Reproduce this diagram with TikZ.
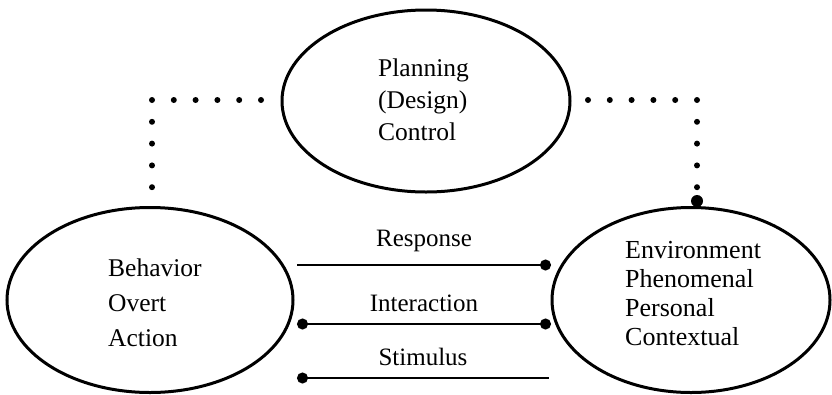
\documentclass[tikz,border=0pt]{standalone}
\usepackage{fontspec}
\setmainfont{Liberation Serif}
\usetikzlibrary{shapes.geometric,arrows.meta}
\begin{document}
\begin{tikzpicture}[x=1pt,y=-1pt,
  oval/.style={draw, ellipse, line width=3pt, inner sep=0pt},
  txt/.style={align=left, inner sep=0pt, anchor=west},
  dotline/.style={line width=6pt, line cap=round, dash pattern=on 0pt off 21.8pt},
  link/.style={line width=1.6pt},
  lbl/.style={font=\fontsize{25}{30}\selectfont, inner sep=0pt},
  bigdot/.style={circle, fill, inner sep=0pt, minimum size=12pt}]
\useasboundingbox (0,0) rectangle (832,394);
% ellipses
\node[oval, minimum width=288pt, minimum height=182pt] (plan) at (426,101) {};
\node[oval, minimum width=286pt, minimum height=185pt] (beh) at (150,300) {};
\node[oval, minimum width=278pt, minimum height=185pt] (env) at (691,300) {};
% texts
\node[txt, font=\fontsize{25.5}{32}\selectfont] (plantxt) at (378,100) {Planning\\(Design)\\Control};
\node[txt, font=\fontsize{25.5}{35}\selectfont] (behtxt) at (108,303) {Behavior\\Overt\\Action};
\node[txt, font=\fontsize{26}{29}\selectfont] (envtxt) at (625,294) {Environment\\Phenomenal\\Personal\\Contextual};
% dotted links
\coordinate (dl1) at (261,100);
\coordinate (dl2) at (152,187.2);
\draw[dotline] (dl1) -| (dl2);
\coordinate (dr1) at (588,100);
\coordinate (dr2) at (697,187.2);
\draw[dotline] (dr1) -| (dr2);
\node[bigdot] (bd) at (697,201) {};
% connectors
\coordinate (r1) at (297,265);
\coordinate (r2) at (551,265);
\draw[link, -{Circle[length=11pt]}] (r1) -- node[lbl, yshift=24pt] {Response} (r2);
\coordinate (i1) at (297,324);
\coordinate (i2) at (551,324);
\draw[link, {Circle[length=11pt]}-{Circle[length=11pt]}] (i1) -- node[lbl, yshift=21pt] {Interaction} (i2);
\coordinate (s1) at (297,378);
\coordinate (s2) at (549,378);
\draw[link, {Circle[length=11pt]}-] (s1) -- node[lbl, yshift=21pt] {Stimulus} (s2);
\end{tikzpicture}
\end{document}
